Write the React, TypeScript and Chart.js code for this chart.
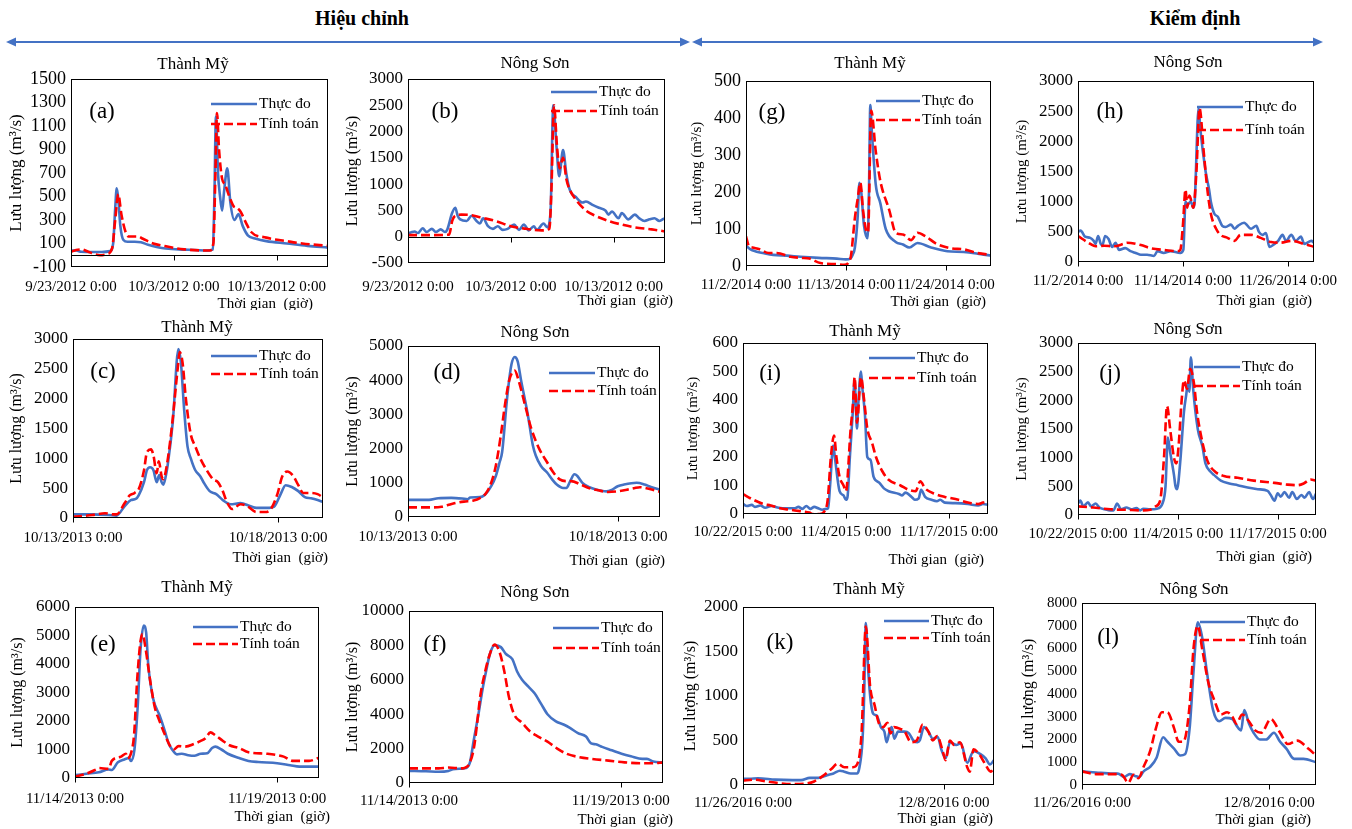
import React, { useEffect, useRef } from "react";
import { Chart, registerables } from "chart.js";
Chart.register(...registerables);

const BLUE = "#4472C4";
const RED = "#FF0000";
const FONT = '"Liberation Serif", "Times New Roman", serif';
const OBS_LABEL = "Thực đo";
const SIM_LABEL = "Tính toán";
const Y_TITLE = "Lưu lượng (m³/s)";
const X_TITLE = "Thời gian  (giờ)";

// ---------- x tick labels ----------
const xLab2012 = ["9/23/2012 0:00", "10/3/2012 0:00", "10/13/2012 0:00"];
const xLab2014G = ["11/2/2014 0:00", "11/13/2014 0:00", "11/24/2014 0:00"];
const xLab2014H = ["11/2/2014 0:00", "11/14/2014 0:00", "11/26/2014 0:00"];
const xLabOct2013 = ["10/13/2013 0:00", "10/18/2013 0:00"];
const xLab2015 = ["10/22/2015 0:00", "11/4/2015 0:00", "11/17/2015 0:00"];
const xLabNov2013 = ["11/14/2013 0:00", "11/19/2013 0:00"];
const xLab2016 = ["11/26/2016 0:00", "12/8/2016 0:00"];

// ---------- (a) Thành Mỹ 2012 (days from 9/23/2012) ----------
const tObsA = [0, 0.5, 1, 2, 3, 3.8, 4.1, 4.3, 4.45, 4.6, 4.8, 5.1, 5.5, 6.2, 6.8, 7.5, 9, 10.5, 12, 13.3, 13.8, 13.95, 14.1, 14.3, 14.5, 14.7, 14.9, 15.2, 15.5, 15.9, 16.3, 16.7, 17.2, 18, 19, 21, 23, 25];
const qObsA = [40, 40, 30, 28, 28, 35, 100, 400, 570, 480, 250, 130, 115, 115, 110, 90, 60, 50, 45, 40, 50, 500, 1180, 700, 500, 380, 550, 740, 450, 300, 350, 250, 170, 140, 120, 100, 80, 65];
const tSimA = [0, 0.5, 1, 1.8, 2.8, 3.5, 4.0, 4.3, 4.6, 4.9, 5.3, 5.6, 6.5, 7.0, 8, 9, 11, 13.5, 13.85, 14.05, 14.2, 14.4, 14.7, 15.0, 15.4, 15.8, 16.2, 16.5, 17, 17.5, 19, 21, 22.5, 25];
const qSimA = [30, 45, 50, 25, 0, 10, 60, 300, 520, 350, 200, 160, 160, 140, 100, 80, 50, 40, 100, 700, 1210, 900, 650, 600, 500, 420, 400, 370, 280, 200, 150, 120, 100, 80];

// ---------- (b) Nông Sơn 2012 ----------
const tObsB = [0, 0.26, 0.64, 0.96, 1.43, 1.81, 2.32, 2.7, 3.18, 3.59, 3.81, 4.29, 4.6, 4.83, 5.08, 5.71, 6.19, 6.67, 6.99, 7.3, 7.78, 8.26, 8.73, 9.21, 9.69, 10.32, 10.8, 11.27, 11.75, 12.23, 12.54, 13.18, 13.56, 13.87, 14.13, 14.45, 14.7, 15.08, 15.4, 15.72, 16.35, 16.99, 17.3, 18.0, 18.57, 19.2, 19.5, 19.84, 20.47, 20.79, 21.43, 22.06, 22.5, 23.0, 23.5, 23.98, 24.45, 24.92];
const qObsB = [70, 80, 100, 70, 160, 90, 150, 90, 140, 90, 130, 450, 550, 400, 330, 300, 400, 300, 250, 350, 200, 150, 200, 130, 150, 230, 130, 230, 120, 200, 130, 250, 180, 500, 2500, 1700, 1150, 1650, 1200, 900, 750, 650, 670, 600, 550, 500, 420, 480, 350, 450, 330, 420, 350, 300, 330, 350, 300, 350];
const tSimB = [0, 2, 4.0, 4.3, 4.6, 5.2, 6.2, 7.0, 8.5, 10, 11.5, 13.0, 13.75, 13.95, 14.2, 14.5, 14.75, 15.08, 15.4, 15.72, 16.35, 17.3, 18.2, 19.5, 20.8, 22.0, 23.7, 25];
const qSimB = [30, 30, 40, 300, 400, 420, 410, 370, 300, 200, 150, 120, 150, 900, 2500, 1700, 1300, 1500, 1100, 900, 700, 500, 400, 300, 230, 180, 140, 100];

// ---------- (c) Thành Mỹ Oct 2013 ----------
const tObsC = [0, 0.47, 0.86, 1.06, 1.26, 1.41, 1.53, 1.6, 1.73, 1.8, 1.88, 1.96, 2.04, 2.1, 2.16, 2.2, 2.26, 2.31, 2.43, 2.57, 2.63, 2.71, 2.79, 2.87, 2.98, 3.1, 3.18, 3.33, 3.49, 3.65, 3.84, 4.08, 4.31, 4.47, 4.78, 4.9, 5.06, 5.18, 5.33, 5.49, 5.65, 5.8, 5.96, 6.08];
const qObsC = [60, 60, 50, 40, 200, 300, 320, 380, 600, 800, 850, 800, 600, 720, 600, 560, 700, 900, 1600, 2830, 2600, 1800, 1200, 1000, 800, 700, 600, 450, 400, 300, 230, 250, 200, 170, 170, 190, 400, 550, 520, 450, 350, 330, 300, 270];
const tSimC = [0, 0.47, 0.78, 1.0, 1.06, 1.26, 1.38, 1.5, 1.61, 1.73, 1.8, 1.9, 1.96, 2.04, 2.09, 2.16, 2.2, 2.29, 2.42, 2.55, 2.6, 2.67, 2.75, 2.87, 2.98, 3.1, 3.26, 3.41, 3.53, 3.65, 3.73, 3.88, 4.08, 4.24, 4.47, 4.67, 4.82, 4.98, 5.1, 5.22, 5.37, 5.49, 5.61, 5.8, 5.96, 6.08];
const qSimC = [20, 50, 80, 60, 60, 250, 380, 420, 500, 800, 1100, 1150, 1050, 750, 950, 700, 650, 900, 1600, 2500, 2780, 2600, 2000, 1400, 1200, 1000, 800, 650, 600, 450, 300, 150, 230, 200, 100, 100, 150, 400, 700, 780, 700, 550, 420, 420, 400, 350];

// ---------- (d) Nông Sơn Oct 2013 ----------
const tObsD = [0, 0.5, 0.72, 1.03, 1.29, 1.42, 1.48, 1.71, 1.83, 1.98, 2.09, 2.18, 2.24, 2.36, 2.46, 2.54, 2.61, 2.69, 2.85, 2.97, 3.04, 3.16, 3.31, 3.43, 3.54, 3.69, 3.77, 3.86, 3.96, 4.03, 4.15, 4.3, 4.49, 4.72, 4.83, 4.99, 5.14, 5.44, 5.63, 5.78, 5.99];
const qObsD = [500, 500, 550, 560, 540, 520, 570, 580, 650, 900, 1200, 1600, 1900, 3500, 4450, 4680, 4550, 4000, 3000, 2100, 1800, 1500, 1300, 1100, 950, 850, 850, 1050, 1250, 1200, 1000, 880, 800, 750, 780, 900, 950, 1000, 950, 880, 800];
const tSimD = [0, 0.6, 0.8, 0.95, 1.1, 1.33, 1.56, 1.71, 1.86, 1.98, 2.09, 2.21, 2.31, 2.41, 2.54, 2.63, 2.78, 2.93, 3.12, 3.31, 3.46, 3.61, 3.77, 3.88, 4.11, 4.3, 4.53, 4.76, 4.99, 5.22, 5.4, 5.52, 5.75, 5.99];
const qSimD = [280, 280, 300, 350, 400, 450, 480, 550, 700, 1000, 1500, 2400, 3300, 4000, 4280, 4000, 3300, 2600, 2000, 1600, 1300, 1100, 1050, 1050, 950, 850, 780, 730, 750, 800, 850, 870, 820, 740];

// ---------- (e) Thành Mỹ Nov 2013 ----------
const tObsE = [0, 0.28, 0.59, 0.83, 0.91, 1.06, 1.22, 1.34, 1.38, 1.47, 1.55, 1.62, 1.7, 1.76, 1.81, 1.93, 2.09, 2.21, 2.32, 2.4, 2.52, 2.64, 2.8, 2.95, 3.11, 3.27, 3.39, 3.47, 3.62, 3.78, 4.06, 4.29, 4.53, 5.0, 5.32, 5.55, 6.02];
const qObsE = [100, 150, 200, 300, 280, 550, 650, 700, 600, 1000, 2500, 4500, 5350, 5100, 4000, 2800, 2200, 1700, 1200, 1000, 830, 850, 800, 780, 850, 870, 1050, 1100, 1000, 850, 700, 600, 560, 520, 450, 400, 400];
const tSimE = [0, 0.28, 0.52, 0.59, 0.83, 0.91, 1.14, 1.26, 1.3, 1.38, 1.46, 1.54, 1.62, 1.67, 1.75, 1.85, 1.97, 2.09, 2.23, 2.36, 2.44, 2.56, 2.72, 2.95, 3.11, 3.23, 3.35, 3.47, 3.66, 3.82, 4.06, 4.29, 4.76, 5.16, 5.4, 5.79, 6.02];
const qSimE = [50, 150, 300, 350, 320, 600, 750, 850, 700, 850, 1500, 3500, 4800, 5050, 4500, 3500, 2500, 2000, 1500, 1100, 1000, 1120, 1100, 1200, 1300, 1400, 1600, 1500, 1300, 1150, 1050, 900, 850, 750, 600, 600, 700];

// ---------- (f) Nông Sơn Nov 2013 ----------
const tObsF = [0, 0.4, 0.7, 0.93, 1.04, 1.3, 1.37, 1.44, 1.53, 1.64, 1.74, 1.82, 1.91, 2.02, 2.17, 2.29, 2.44, 2.55, 2.67, 2.82, 2.97, 3.12, 3.27, 3.46, 3.65, 3.8, 3.99, 4.18, 4.3, 4.41, 4.56, 4.79, 5.02, 5.24, 5.51, 5.62, 5.77, 6.0];
const qObsF = [700, 680, 650, 700, 800, 850, 900, 1200, 2500, 4000, 5500, 6500, 7500, 8000, 7900, 7500, 7200, 6500, 6000, 5600, 5200, 4600, 4000, 3600, 3400, 3200, 2900, 2700, 2300, 2250, 2100, 1900, 1700, 1550, 1400, 1400, 1250, 1200];
const tSimF = [0, 0.7, 0.93, 1.23, 1.33, 1.42, 1.53, 1.61, 1.68, 1.8, 1.91, 2.02, 2.14, 2.25, 2.36, 2.48, 2.67, 2.86, 3.05, 3.27, 3.5, 3.72, 4.03, 4.33, 4.71, 5.09, 5.47, 5.77, 6.0];
const qSimF = [850, 850, 900, 850, 900, 1100, 2000, 3500, 5000, 6500, 7500, 8050, 7600, 6500, 5000, 4000, 3500, 3000, 2700, 2400, 2000, 1700, 1500, 1400, 1300, 1200, 1150, 1150, 1200];

// ---------- (g) Thành Mỹ 2014 ----------
const tObsG = [0, 0.5, 1.0, 1.9, 3.0, 4.5, 6, 8, 10, 11.0, 11.5, 11.75, 12.0, 12.3, 12.5, 12.7, 13.0, 13.4, 13.55, 13.7, 13.85, 14.3, 14.8, 15.4, 16.5, 17.3, 18, 18.9, 20.4, 22.2, 24, 25.9, 27];
const qObsG = [55, 45, 40, 35, 30, 28, 25, 22, 20, 18, 20, 30, 50, 130, 225, 200, 110, 75, 200, 435, 370, 220, 170, 100, 65, 58, 50, 62, 50, 40, 38, 32, 28];
const tSimG = [0, 0.3, 0.7, 1.5, 2.5, 3.4, 4.9, 6, 7, 8.2, 10, 10.8, 11.5, 12.0, 12.3, 12.6, 12.9, 13.2, 13.45, 13.8, 14.3, 14.8, 15.8, 16.5, 17.3, 18.2, 18.9, 19.8, 21, 22.6, 24, 25.5, 27];
const qSimG = [80, 55, 50, 45, 35, 35, 25, 22, 20, 8, 5, 3, 20, 130, 180, 225, 150, 100, 90, 420, 310, 230, 150, 90, 85, 70, 90, 80, 60, 48, 45, 35, 30];

// ---------- (h) Nông Sơn 2014 ----------
const tObsH = [0, 0.3, 0.8, 1.4, 1.8, 2.0, 2.3, 2.6, 2.8, 3.1, 3.5, 3.9, 4.3, 4.7, 5.4, 6.0, 6.6, 7.2, 7.9, 8.7, 9.1, 9.8, 10.6, 11.7, 12.05, 12.3, 12.5, 12.9, 13.2, 13.35, 13.8, 14.0, 14.6, 15.0, 15.2, 15.6, 16.0, 16.5, 16.9, 17.5, 17.9, 18.3, 19.0, 19.8, 20.4, 20.7, 21.1, 21.5, 21.9, 22.5, 22.9, 23.4, 23.8, 24.4, 24.9, 25.5, 25.9, 26.7, 27];
const qObsH = [500, 520, 420, 400, 350, 300, 430, 300, 280, 430, 380, 250, 320, 200, 230, 180, 150, 120, 120, 100, 180, 150, 180, 150, 200, 1000, 950, 1000, 900, 1000, 2550, 2200, 1500, 1200, 1000, 800, 750, 600, 580, 620, 550, 600, 650, 550, 600, 500, 450, 480, 250, 300, 350, 450, 350, 450, 350, 420, 300, 350, 320];
const tSimH = [0, 1.4, 2.0, 3.0, 4.1, 5.2, 5.6, 7.2, 8.3, 9.8, 11.4, 11.7, 12.0, 12.3, 12.5, 12.75, 13.2, 13.55, 13.9, 14.4, 14.8, 15.2, 15.8, 16.3, 17.1, 17.9, 18.6, 19.8, 20.9, 22.1, 23.2, 24.4, 25.9, 27];
const qSimH = [430, 300, 260, 270, 260, 300, 320, 280, 230, 200, 180, 200, 600, 1200, 900, 1100, 900, 1500, 2550, 1800, 1200, 800, 550, 450, 400, 350, 450, 450, 400, 330, 320, 350, 300, 250];

// ---------- (i) Thành Mỹ 2015 ----------
const tObsI = [0, 0.5, 1.1, 1.5, 2.2, 2.8, 3.6, 4.5, 5.5, 6.5, 7.0, 7.5, 8.0, 8.5, 9.0, 9.5, 10.0, 10.5, 10.75, 11.0, 11.4, 11.6, 12.2, 12.7, 13.0, 13.2, 13.5, 13.85, 14.1, 14.25, 14.4, 14.55, 14.9, 15.05, 15.4, 15.7, 16.1, 16.5, 17.2, 17.8, 18.4, 19.7, 20.1, 20.5, 21.3, 21.7, 22.2, 22.5, 23.0, 23.8, 24.5, 24.9, 25.5, 26.8, 28.4, 29.7, 30.3, 31];
const qObsI = [35, 28, 32, 25, 30, 22, 28, 22, 20, 20, 25, 18, 28, 18, 25, 20, 15, 18, 20, 100, 240, 200, 80, 65, 50, 60, 200, 350, 470, 380, 300, 380, 500, 450, 350, 200, 190, 130, 110, 90, 80, 70, 65, 75, 60, 50, 55, 85, 60, 50, 45, 50, 40, 38, 35, 30, 35, 32];
const tSimI = [0, 1.3, 2.6, 3.5, 4.7, 5.9, 7.2, 8.4, 8.8, 9.7, 10.3, 10.7, 11.1, 11.5, 11.8, 12.2, 12.7, 13.0, 13.6, 13.9, 14.1, 14.4, 14.9, 15.3, 15.7, 16.3, 16.8, 17.6, 18.4, 19.9, 20.9, 21.8, 22.4, 23.0, 24.3, 25.5, 27.2, 28.4, 29.7, 30.3, 31];
const qSimI = [70, 50, 35, 30, 20, 15, 10, 5, 0, 0, 10, 50, 200, 275, 200, 130, 100, 80, 300, 390, 480, 320, 480, 400, 300, 250, 200, 150, 120, 100, 85, 80, 115, 90, 70, 60, 50, 40, 35, 40, 45];

// ---------- (j) Nông Sơn 2015 ----------
const tObsJ = [0, 0.3, 0.7, 1.3, 1.7, 2.3, 2.8, 3.5, 4.2, 4.6, 5.1, 5.6, 6.3, 6.96, 7.6, 8.1, 8.5, 9.4, 10.3, 11.0, 11.4, 11.7, 12.0, 12.5, 12.7, 12.9, 13.3, 13.8, 14.1, 14.3, 14.5, 14.7, 15.0, 15.6, 16.2, 16.6, 17.3, 17.7, 18.6, 19.7, 20.8, 22.1, 23.4, 24.7, 25.1, 25.6, 26.0, 26.4, 26.9, 27.5, 27.9, 28.5, 29.1, 29.5, 30.1, 30.6, 31.1];
const qObsJ = [200, 250, 150, 220, 150, 200, 130, 100, 80, 80, 200, 100, 130, 100, 120, 80, 110, 100, 110, 200, 500, 1350, 1100, 700, 500, 450, 900, 1800, 2100, 2300, 2150, 2750, 2200, 1500, 1200, 900, 750, 700, 600, 550, 520, 480, 450, 420, 350, 250, 380, 320, 400, 300, 400, 280, 350, 300, 400, 280, 400];
const tSimJ = [0, 1.95, 4.2, 6.3, 8.5, 9.4, 10.1, 10.7, 11.2, 11.6, 12.0, 12.5, 12.8, 13.1, 13.5, 13.8, 14.2, 14.6, 15.1, 15.5, 16.0, 16.5, 17.0, 17.9, 19.0, 20.8, 22.9, 25.6, 27.3, 28.6, 29.4, 30.3, 31];
const qSimJ = [150, 130, 100, 90, 80, 90, 150, 250, 1000, 1900, 1500, 1000, 900, 1200, 2000, 2350, 2200, 2550, 2300, 1800, 1400, 1100, 900, 750, 680, 650, 600, 560, 530, 520, 550, 620, 600];

// ---------- (k) Thành Mỹ 2016 ----------
const tObsK = [0, 0.38, 0.9, 1.93, 2.96, 3.47, 3.99, 4.5, 5.02, 5.41, 5.79, 6.05, 6.44, 6.83, 6.96, 7.14, 7.24, 7.34, 7.45, 7.6, 7.78, 7.99, 8.24, 8.45, 8.58, 8.76, 8.89, 9.04, 9.27, 9.66, 9.92, 10.18, 10.43, 10.56, 10.82, 11.08, 11.34, 11.64, 11.85, 12.11, 12.37, 12.75, 13.01, 13.4, 13.78, 14.17, 14.5, 14.76, 15];
const qObsK = [70, 70, 75, 60, 55, 55, 80, 80, 110, 130, 160, 150, 130, 130, 200, 500, 1000, 1820, 1400, 1000, 800, 780, 650, 600, 480, 600, 650, 520, 600, 600, 580, 500, 480, 500, 650, 600, 520, 540, 400, 300, 480, 450, 470, 250, 380, 350, 300, 230, 280];
const tSimK = [0, 0.64, 1.41, 2.19, 2.96, 3.73, 4.25, 4.76, 5.28, 5.66, 6.05, 6.57, 6.88, 7.09, 7.34, 7.6, 7.86, 8.11, 8.37, 8.63, 8.81, 9.02, 9.4, 9.66, 10.05, 10.38, 10.74, 11.08, 11.34, 11.6, 11.98, 12.1, 12.37, 12.62, 12.96, 13.4, 13.55, 13.78, 14.1, 14.43, 14.81, 15];
const qSimK = [50, 60, 40, 20, 10, 15, 40, 100, 180, 240, 200, 200, 260, 600, 1780, 1100, 900, 700, 650, 700, 580, 650, 630, 600, 480, 500, 680, 600, 500, 550, 350, 280, 500, 450, 480, 200, 150, 400, 350, 250, 150, 200];

// ---------- (l) Nông Sơn 2016 ----------
const tObsL = [0, 0.89, 2.0, 2.3, 2.7, 3.06, 3.4, 3.67, 3.95, 4.37, 4.78, 5.2, 5.48, 5.9, 6.3, 6.6, 6.9, 7.15, 7.42, 7.7, 8.0, 8.4, 8.8, 9.2, 9.64, 9.92, 10.2, 10.4, 10.7, 11.0, 11.4, 11.8, 12.3, 12.7, 13.1, 13.6, 14.2, 15.0];
const qObsL = [600, 550, 500, 500, 350, 480, 400, 350, 600, 800, 1200, 2100, 1900, 1600, 1300, 1350, 2500, 5000, 7150, 6500, 5000, 3300, 2800, 2950, 2900, 2600, 2400, 3300, 2700, 2300, 2000, 2000, 2300, 1900, 1600, 1150, 1150, 1000];
const tSimL = [0, 0.89, 2.0, 2.55, 2.97, 3.3, 3.62, 3.95, 4.37, 4.74, 5.12, 5.48, 5.9, 6.2, 6.5, 6.9, 7.15, 7.42, 7.7, 8.1, 8.5, 8.9, 9.3, 9.64, 9.9, 10.27, 10.7, 11.1, 11.5, 12.1, 12.7, 13.2, 13.8, 14.5, 15.0];
const qSimL = [600, 480, 480, 450, 100, 450, 300, 800, 1500, 2500, 3200, 3200, 2500, 1900, 1900, 3500, 6000, 7000, 6000, 4500, 3700, 3100, 3200, 3000, 2700, 3100, 2800, 2400, 2300, 2900, 2300, 1800, 1950, 1600, 1300];

type Spec = {
  tag: string; title: string;
  box: number[]; plot: number[];
  yMin: number; yMax: number; yStep: number; yTickSize: number;
  xMax: number; xTicks: number[]; xLabels: string[]; xPad: number;
  tObs: number[]; qObs: number[]; tSim: number[]; qSim: number[];
  titleXY: number[]; tagXY: number[]; legend: number[];
  yTitleX: number; yTitleSize: number; xTitleXY: number[];
};

const TM = "Thành Mỹ";
const NS = "Nông Sơn";

const panels: Spec[] = [
  { tag: "(a)", title: TM, box: [0, 50, 340, 260], plot: [71, 79, 328, 267], yMin: -100, yMax: 1500, yStep: 200, yTickSize: 18,
    xMax: 25, xTicks: [0, 10, 20], xLabels: xLab2012, xPad: 11, tObs: tObsA, qObs: qObsA, tSim: tSimA, qSim: qSimA,
    titleXY: [193, 65], tagXY: [102, 112], legend: [211, 257, 104, 124], yTitleX: 17, yTitleSize: 17, xTitleXY: [313, 304] },
  { tag: "(b)", title: NS, box: [340, 50, 340, 260], plot: [408, 79, 670, 263], yMin: -500, yMax: 3000, yStep: 500, yTickSize: 17,
    xMax: 25, xTicks: [0, 10, 20], xLabels: xLab2012, xPad: 15, tObs: tObsB, qObs: qObsB, tSim: tSimB, qSim: qSimB,
    titleXY: [535, 64], tagXY: [445, 112], legend: [551, 597, 92, 111], yTitleX: 353, yTitleSize: 16, xTitleXY: [673, 301] },
  { tag: "(g)", title: TM, box: [680, 50, 330, 260], plot: [746, 81, 991, 266], yMin: 0, yMax: 500, yStep: 100, yTickSize: 18,
    xMax: 27, xTicks: [0, 11, 22], xLabels: xLab2014G, xPad: 10, tObs: tObsG, qObs: qObsG, tSim: tSimG, qSim: qSimG,
    titleXY: [870, 64], tagXY: [772, 113], legend: [876, 920, 101, 120], yTitleX: 697, yTitleSize: 15, xTitleXY: [986, 302] },
  { tag: "(h)", title: NS, box: [1010, 50, 342, 260], plot: [1078, 81, 1314, 262], yMin: 0, yMax: 3000, yStep: 500, yTickSize: 17,
    xMax: 27, xTicks: [0, 12, 24], xLabels: xLab2014H, xPad: 10, tObs: tObsH, qObs: qObsH, tSim: tSimH, qSim: qSimH,
    titleXY: [1188, 63], tagXY: [1110, 112], legend: [1197, 1243, 107, 130], yTitleX: 1022, yTitleSize: 15, xTitleXY: [1312, 301] },
  { tag: "(c)", title: TM, box: [0, 310, 340, 260], plot: [73, 339, 332, 518], yMin: 0, yMax: 3000, yStep: 500, yTickSize: 17,
    xMax: 6.08, xTicks: [0, 5], xLabels: xLabOct2013, xPad: 11, tObs: tObsC, qObs: qObsC, tSim: tSimC, qSim: qSimC,
    titleXY: [197, 328], tagXY: [103, 372], legend: [211, 257, 356, 374], yTitleX: 17, yTitleSize: 16, xTitleXY: [328, 558] },
  { tag: "(d)", title: NS, box: [340, 310, 340, 260], plot: [408, 346, 671, 517], yMin: 0, yMax: 5000, yStep: 1000, yTickSize: 17,
    xMax: 6, xTicks: [0, 5], xLabels: xLabOct2013, xPad: 11, tObs: tObsD, qObs: qObsD, tSim: tSimD, qSim: qSimD,
    titleXY: [535, 333], tagXY: [447, 373], legend: [549, 595, 373, 391], yTitleX: 353, yTitleSize: 16, xTitleXY: [665, 561] },
  { tag: "(i)", title: TM, box: [680, 310, 330, 260], plot: [743, 343, 991, 514], yMin: 0, yMax: 600, yStep: 100, yTickSize: 17,
    xMax: 31, xTicks: [0, 13, 26], xLabels: xLab2015, xPad: 9, tObs: tObsI, qObs: qObsI, tSim: tSimI, qSim: qSimI,
    titleXY: [865, 332], tagXY: [770, 374], legend: [869, 915, 358, 378], yTitleX: 693, yTitleSize: 15, xTitleXY: [984, 560] },
  { tag: "(j)", title: NS, box: [1010, 310, 342, 260], plot: [1078, 343, 1316, 515], yMin: 0, yMax: 3000, yStep: 500, yTickSize: 17,
    xMax: 31, xTicks: [0, 13, 26], xLabels: xLab2015, xPad: 10, tObs: tObsJ, qObs: qObsJ, tSim: tSimJ, qSim: qSimJ,
    titleXY: [1188, 330], tagXY: [1110, 374], legend: [1194, 1240, 367, 386], yTitleX: 1022, yTitleSize: 15, xTitleXY: [1312, 557] },
  { tag: "(e)", title: TM, box: [0, 570, 340, 259], plot: [75, 607, 330, 778], yMin: 0, yMax: 6000, yStep: 1000, yTickSize: 17,
    xMax: 6.03, xTicks: [0, 5], xLabels: xLabNov2013, xPad: 12, tObs: tObsE, qObs: qObsE, tSim: tSimE, qSim: qSimE,
    titleXY: [197, 588], tagXY: [103, 645], legend: [193, 238, 627, 644], yTitleX: 18, yTitleSize: 16, xTitleXY: [330, 817] },
  { tag: "(f)", title: NS, box: [340, 570, 340, 259], plot: [409, 611, 673, 783], yMin: 0, yMax: 10000, yStep: 2000, yTickSize: 17,
    xMax: 6, xTicks: [0, 5], xLabels: xLabNov2013, xPad: 9, tObs: tObsF, qObs: qObsF, tSim: tSimF, qSim: qSimF,
    titleXY: [535, 593], tagXY: [435, 645], legend: [553, 599, 628, 648], yTitleX: 353, yTitleSize: 16, xTitleXY: [673, 820] },
  { tag: "(k)", title: TM, box: [680, 570, 330, 259], plot: [743, 607, 994, 785], yMin: 0, yMax: 2000, yStep: 500, yTickSize: 17,
    xMax: 15, xTicks: [0, 12], xLabels: xLab2016, xPad: 9, tObs: tObsK, qObs: qObsK, tSim: tSimK, qSim: qSimK,
    titleXY: [869, 590], tagXY: [780, 643], legend: [884, 929, 621, 638], yTitleX: 691, yTitleSize: 16, xTitleXY: [993, 819] },
  { tag: "(l)", title: NS, box: [1010, 570, 342, 259], plot: [1082, 603, 1316, 785], yMin: 0, yMax: 8000, yStep: 1000, yTickSize: 15,
    xMax: 15, xTicks: [0, 12], xLabels: xLab2016, xPad: 9, tObs: tObsL, qObs: qObsL, tSim: tSimL, qSim: qSimL,
    titleXY: [1194, 590], tagXY: [1108, 638], legend: [1200, 1245, 622, 640], yTitleX: 1029, yTitleSize: 16, xTitleXY: [1311, 820] },
];

function decor(s: Spec) {
  return {
    id: "decor",
    afterDraw(chart: any) {
      const ctx = chart.ctx as CanvasRenderingContext2D;
      const a = chart.chartArea;
      const bx = s.box[0], by = s.box[1];
      const xs = chart.scales.x, ys = chart.scales.y;
      ctx.save();
      ctx.strokeStyle = "#000";
      ctx.lineWidth = 1;
      ctx.setLineDash([]);
      const L = Math.round(a.left) + 0.5, T = Math.round(a.top) + 0.5;
      const R = Math.round(a.right) - 0.5, B = Math.round(a.bottom) - 0.5;
      ctx.strokeRect(L, T, R - L, B - T);
      const base = s.yMin < 0 ? Math.round(ys.getPixelForValue(0)) + 0.5 : B;
      ctx.beginPath();
      if (s.yMin < 0) { ctx.moveTo(L, base); ctx.lineTo(R, base); }
      for (const v of s.xTicks) {
        const px = Math.round(xs.getPixelForValue(v)) + 0.5;
        ctx.moveTo(px, base); ctx.lineTo(px, base + 5);
      }
      ctx.stroke();

      ctx.fillStyle = "#000";
      ctx.textBaseline = "middle";
      ctx.font = `17px ${FONT}`;
      ctx.textAlign = "center";
      ctx.fillText(s.title, s.titleXY[0] - bx, s.titleXY[1] - by);
      ctx.font = `23px ${FONT}`;
      ctx.fillText(s.tag, s.tagXY[0] - bx, s.tagXY[1] - by);
      const [x1, x2, y1, y2] = s.legend;
      ctx.lineWidth = 2.5;
      ctx.strokeStyle = BLUE;
      ctx.beginPath(); ctx.moveTo(x1 - bx, y1 - by); ctx.lineTo(x2 - bx, y1 - by); ctx.stroke();
      ctx.strokeStyle = RED;
      ctx.setLineDash([9, 4]);
      ctx.beginPath(); ctx.moveTo(x1 - bx, y2 - by); ctx.lineTo(x2 - bx, y2 - by); ctx.stroke();
      ctx.setLineDash([]);
      ctx.font = `15.5px ${FONT}`;
      ctx.textAlign = "left";
      ctx.fillText(OBS_LABEL, x2 + 2 - bx, y1 - by);
      ctx.fillText(SIM_LABEL, x2 + 2 - bx, y2 - by);
      ctx.font = `15px ${FONT}`;
      ctx.textAlign = "right";
      ctx.fillText(X_TITLE, s.xTitleXY[0] - bx, s.xTitleXY[1] - by);
      ctx.translate(s.yTitleX - bx, (s.plot[1] + s.plot[3]) / 2 - by);
      ctx.rotate(-Math.PI / 2);
      ctx.font = `${s.yTitleSize}px ${FONT}`;
      ctx.textAlign = "center";
      ctx.fillText(Y_TITLE, 0, 0);
      ctx.restore();
    },
  };
}

function Panel({ s }: { s: Spec }) {
  const ref = useRef<HTMLCanvasElement>(null);
  useEffect(() => {
    const [bx, by, bw, bh] = s.box;
    const [pl, pt, pr, pb] = s.plot;
    const yTicks: number[] = [];
    for (let v = s.yMin; v <= s.yMax + 1e-9; v += s.yStep) yTicks.push(v);
    const chart = new Chart(ref.current as HTMLCanvasElement, {
      type: "line",
      data: {
        datasets: [
          {
            label: SIM_LABEL,
            data: s.tSim.map((x, i) => ({ x, y: s.qSim[i] })),
            borderColor: RED, backgroundColor: RED, borderWidth: 2.6, borderDash: [9, 4],
            pointRadius: 0, fill: false, cubicInterpolationMode: "monotone", order: 0,
          },
          {
            label: OBS_LABEL,
            data: s.tObs.map((x, i) => ({ x, y: s.qObs[i] })),
            borderColor: BLUE, backgroundColor: BLUE, borderWidth: 2.6,
            pointRadius: 0, fill: false, cubicInterpolationMode: "monotone", order: 1,
          },
        ],
      },
      options: {
        responsive: false,
        animation: false,
        events: [],
        layout: { autoPadding: false, padding: { left: 0, top: pt - by, right: bx + bw - pr, bottom: 0 } },
        plugins: { legend: { display: false }, tooltip: { enabled: false }, title: { display: false } },
        scales: {
          x: {
            type: "linear", min: 0, max: s.xMax,
            grid: { display: false, drawTicks: false }, border: { display: false },
            ticks: {
              font: { family: FONT, size: 15 }, color: "#000", padding: s.xPad,
              maxRotation: 0, minRotation: 0, autoSkip: false,
              callback: (v: any) => { const i = s.xTicks.indexOf(Number(v)); return i >= 0 ? s.xLabels[i] : ""; },
            },
            afterBuildTicks: (sc: any) => { sc.ticks = s.xTicks.map((v) => ({ value: v })); },
            afterFit: (sc: any) => { sc.height = by + bh - pb; },
          },
          y: {
            type: "linear", min: s.yMin, max: s.yMax,
            grid: { display: false, drawTicks: false }, border: { display: false },
            ticks: {
              font: { family: FONT, size: s.yTickSize }, color: "#000", padding: 5, autoSkip: false,
              callback: (v: any) => String(v),
            },
            afterBuildTicks: (sc: any) => { sc.ticks = yTicks.map((v) => ({ value: v })); },
            afterFit: (sc: any) => { sc.width = pl - bx; },
          },
        },
      } as any,
      plugins: [decor(s)],
    });
    return () => chart.destroy();
  }, [s]);
  return (
    <canvas
      ref={ref}
      width={s.box[2]}
      height={s.box[3]}
      style={{ position: "absolute", left: s.box[0], top: s.box[1], width: s.box[2], height: s.box[3] }}
    />
  );
}

export default function App() {
  const hdr: React.CSSProperties = {
    position: "absolute", top: 5, width: 240, textAlign: "center",
    fontFamily: FONT, fontWeight: "bold", fontSize: 20, lineHeight: "26px", color: "#000",
  };
  return (
    <div style={{ position: "absolute", left: 0, top: 0, width: 1352, height: 829, background: "#fff", overflow: "hidden" }}>
      <div style={{ ...hdr, left: 362 - 120 }}>Hiệu chỉnh</div>
      <div style={{ ...hdr, left: 1195 - 120 }}>Kiểm định</div>
      <svg width={1352} height={60} style={{ position: "absolute", left: 0, top: 0 }}>
        <line x1={14} y1={42} x2={682} y2={42} stroke={BLUE} strokeWidth={2} />
        <polygon points="6,42 16,37.5 16,46.5" fill={BLUE} />
        <polygon points="690,42 680,37.5 680,46.5" fill={BLUE} />
        <line x1={700} y1={42} x2={1315} y2={42} stroke={BLUE} strokeWidth={2} />
        <polygon points="692,42 702,37.5 702,46.5" fill={BLUE} />
        <polygon points="1323,42 1313,37.5 1313,46.5" fill={BLUE} />
      </svg>
      {panels.map((s) => (
        <Panel key={s.tag} s={s} />
      ))}
    </div>
  );
}
